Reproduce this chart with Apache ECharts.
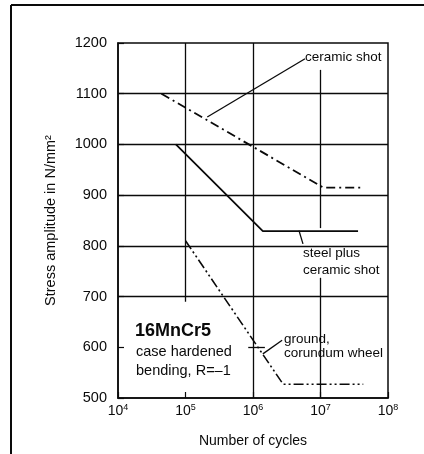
<!DOCTYPE html>
<html>
<head>
<meta charset="utf-8">
<script src="https://cdn.jsdelivr.net/npm/echarts@6/dist/echarts.min.js"></script>
<style>html,body{margin:0;padding:0;background:#fff}#c{width:424px;height:454px}</style>
</head>
<body>
<div id="c"></div>
<script>
// Data
const ceramicN = [4.4e4, 1.1e7, 4.0e7];
const ceramicS = [1100, 915, 915];
const steelN = [7.2e4, 1.4e6, 3.6e7];
const steelS = [1000, 829, 829];
const groundN = [1.0e5, 2.8e6, 4.3e7];
const groundS = [810, 527, 527];
const yTicks = [500, 600, 700, 800, 900, 1000, 1100, 1200];
const xTicks = [1e4, 1e5, 1e6, 1e7, 1e8];

const INK = '#0a0a0a';
const FONT = '"Liberation Sans", Arial, sans-serif';

function pairs(xs, ys) { return xs.map((x, i) => [x, ys[i]]); }
function seg(a, b) { return [{ coord: a }, { coord: b }]; }

// grid lines (partial, as in the printed figure)
const gridSegs = [
  seg([1e4, 1100], [1e8, 1100]),
  seg([1e4, 1000], [1e8, 1000]),
  seg([1e4, 900], [1e8, 900]),
  seg([1e4, 800], [1e8, 800]),
  seg([1e4, 700], [1e8, 700]),
  seg([8.5e5, 600], [1.5e6, 600]),
  seg([1e5, 690], [1e5, 1200]),
  seg([1e6, 500], [1e6, 1200]),
  seg([1e7, 500], [1e7, 737]),
  seg([1e7, 835], [1e7, 1147])
];
// leader lines of the annotations
const leaderSegs = [
  seg([5.9e6, 1169], [2.1e5, 1054]),
  seg([4.8e6, 830], [5.5e6, 804]),
  seg([2.7e6, 614], [1.4e6, 587])
];

const chart = echarts.init(document.getElementById('c'), null, { renderer: 'canvas' });
chart.setOption({
  animation: false,
  backgroundColor: '#fff',
  grid: { left: 118, right: 36, top: 43, bottom: 56, show: true, borderColor: INK, borderWidth: 1.5, backgroundColor: 'transparent' },
  xAxis: {
    type: 'log', logBase: 10, min: xTicks[0], max: xTicks[xTicks.length - 1],
    name: 'Number of cycles', nameLocation: 'middle', nameGap: 36,
    nameTextStyle: { color: INK, fontFamily: FONT, fontSize: 14 },
    axisLine: { show: true, lineStyle: { color: INK, width: 1.5 } },
    axisTick: { show: true, inside: true, length: 6, lineStyle: { color: INK, width: 1.2 } },
    minorTick: { show: false },
    splitLine: { show: false },
    axisLabel: {
      color: INK, fontFamily: FONT, fontSize: 14, margin: 5,
      formatter: v => '10{s|' + Math.round(Math.log10(v)) + '}',
      rich: { s: { fontSize: 9, verticalAlign: 'top', padding: [0, 0, 8, 0], fontFamily: FONT, color: INK } }
    }
  },
  yAxis: {
    type: 'value', min: yTicks[0], max: yTicks[yTicks.length - 1], interval: 100,
    name: 'Stress amplitude in N/mm²', nameLocation: 'middle', nameGap: 60, nameRotate: 90,
    nameTextStyle: { color: INK, fontFamily: FONT, fontSize: 14.5 },
    axisLine: { show: true, lineStyle: { color: INK, width: 1.5 } },
    axisTick: { show: true, inside: true, length: 6, lineStyle: { color: INK, width: 1.2 } },
    splitLine: { show: false },
    axisLabel: { color: INK, fontFamily: FONT, fontSize: 14.5, margin: 11, formatter: v => String(v) }
  },
  series: [
    {
      name: 'ceramic shot', type: 'line', data: pairs(ceramicN, ceramicS), symbol: 'none',
      lineStyle: { color: INK, width: 1.8, type: [9, 4, 2, 4] },
      markLine: {
        silent: true, symbol: 'none', label: { show: false },
        lineStyle: { color: INK, width: 1.3, type: 'solid' },
        data: gridSegs.concat(leaderSegs)
      },
      z: 3
    },
    {
      name: 'steel plus ceramic shot', type: 'line', data: pairs(steelN, steelS), symbol: 'none',
      lineStyle: { color: INK, width: 1.8, type: 'solid' }, z: 3
    },
    {
      name: 'ground, corundum wheel', type: 'line', data: pairs(groundN, groundS), symbol: 'none',
      lineStyle: { color: INK, width: 1.6, type: [10, 3, 2, 3, 2, 3] }, z: 3
    }
  ],
  graphic: [
    { type: 'line', shape: { x1: 11, y1: 5, x2: 424, y2: 5 }, style: { stroke: INK, lineWidth: 2 } },
    { type: 'line', shape: { x1: 11, y1: 5, x2: 11, y2: 454 }, style: { stroke: INK, lineWidth: 2 } },
    { type: 'text', left: 305, top: 50, style: { text: 'ceramic shot', font: '13.5px ' + FONT, fill: INK } },
    { type: 'text', left: 303, top: 245, style: { text: 'steel plus\nceramic shot', font: '13.5px ' + FONT, fill: INK, lineHeight: 17 } },
    { type: 'text', left: 284, top: 332, style: { text: 'ground,\ncorundum wheel', font: '13.5px ' + FONT, fill: INK, lineHeight: 14 } },
    { type: 'text', left: 135, top: 322, style: { text: '16MnCr5', font: 'bold 18px ' + FONT, fill: INK } },
    { type: 'text', left: 136, top: 342, style: { text: 'case hardened\nbending, R=–1', font: '14.5px ' + FONT, fill: INK, lineHeight: 19 } }
  ]
});
</script>
</body>
</html>
